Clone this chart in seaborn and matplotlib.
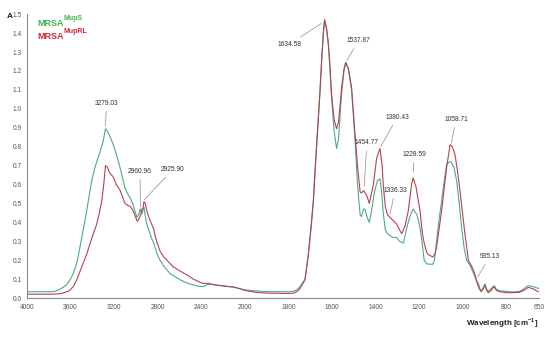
import numpy as np
import pandas as pd
import matplotlib
matplotlib.use("Agg")
import matplotlib.pyplot as plt
import seaborn as sns

# Espectros FTIR (numero de onda en cm-1, absorbancia)
wn_mups = [4000, 3800, 3740, 3700, 3660, 3636, 3600, 3575, 3540, 3513, 3480, 3452, 3420, 3406,
           3380, 3360, 3330, 3300, 3279, 3260, 3235, 3208, 3180, 3146, 3120, 3100, 3075, 3054,
           3030, 3009, 2990, 2975, 2961, 2945, 2926, 2910, 2895, 2875, 2856, 2840, 2810, 2779,
           2740, 2687, 2620, 2565, 2500, 2420, 2382, 2336, 2300, 2259, 2200, 2150, 2106, 2050,
           2000, 1960, 1900, 1800, 1775, 1760, 1747, 1735, 1724, 1709, 1697, 1686, 1675, 1663,
           1655, 1648, 1640, 1634, 1625, 1617, 1610, 1602, 1590, 1579, 1570, 1556, 1545, 1537,
           1525, 1510, 1494, 1483, 1471, 1465, 1455, 1449, 1440, 1429, 1420, 1405, 1392, 1380,
           1372, 1365, 1355, 1345, 1334, 1320, 1303, 1290, 1272, 1255, 1240, 1228, 1210, 1196,
           1185, 1177, 1165, 1138, 1130, 1120, 1108, 1097, 1085, 1074, 1060, 1054, 1040, 1028,
           1016, 1005, 993, 982, 965, 951, 940, 928, 918, 910, 898, 890, 883, 870, 856, 845,
           829, 800, 768, 740, 720, 700, 680, 665, 650]
abs_mups = [0.033, 0.033, 0.035, 0.045, 0.060, 0.070, 0.100, 0.130, 0.190, 0.270, 0.370, 0.460, 0.570, 0.620,
            0.680, 0.720, 0.770, 0.830, 0.895, 0.880, 0.850, 0.810, 0.760, 0.690, 0.630, 0.580, 0.550, 0.530,
            0.500, 0.460, 0.425, 0.440, 0.470, 0.445, 0.480, 0.420, 0.380, 0.350, 0.315, 0.295, 0.240, 0.200,
            0.165, 0.130, 0.105, 0.088, 0.073, 0.062, 0.060, 0.073, 0.072, 0.068, 0.064, 0.060, 0.058, 0.050,
            0.043, 0.038, 0.034, 0.033, 0.036, 0.045, 0.060, 0.080, 0.100, 0.230, 0.370, 0.510, 0.730, 0.950,
            1.100, 1.250, 1.400, 1.470, 1.420, 1.340, 1.220, 1.060, 0.880, 0.790, 0.840, 1.080, 1.200, 1.245,
            1.210, 1.100, 0.830, 0.600, 0.440, 0.430, 0.470, 0.470, 0.430, 0.400, 0.450, 0.560, 0.620, 0.630,
            0.560, 0.450, 0.360, 0.340, 0.330, 0.320, 0.320, 0.300, 0.290, 0.380, 0.440, 0.470, 0.440, 0.370,
            0.280, 0.200, 0.180, 0.178, 0.200, 0.300, 0.420, 0.510, 0.620, 0.705, 0.720, 0.720, 0.690, 0.620,
            0.500, 0.370, 0.260, 0.200, 0.170, 0.130, 0.100, 0.077, 0.040, 0.045, 0.075, 0.045, 0.035, 0.050,
            0.065, 0.045, 0.038, 0.035, 0.032, 0.035, 0.048, 0.065, 0.062, 0.055, 0.050]

wn_muprl = [4000, 3800, 3700, 3660, 3620, 3605, 3575, 3544, 3500, 3452, 3420, 3390, 3360, 3335,
            3314, 3295, 3279, 3260, 3240, 3208, 3180, 3146, 3120, 3100, 3075, 3054, 3035, 3024,
            3005, 2987, 2970, 2956, 2945, 2935, 2926, 2914, 2900, 2886, 2870, 2856, 2840, 2810,
            2780, 2749, 2700, 2657, 2610, 2565, 2520, 2473, 2420, 2382, 2336, 2300, 2259, 2200,
            2150, 2106, 2050, 2000, 1950, 1900, 1800, 1775, 1760, 1747, 1735, 1724, 1709, 1697,
            1686, 1675, 1663, 1655, 1648, 1640, 1634, 1625, 1617, 1610, 1602, 1590, 1579, 1570,
            1556, 1545, 1537, 1525, 1510, 1494, 1483, 1471, 1465, 1455, 1440, 1429, 1410, 1395,
            1380, 1370, 1365, 1355, 1345, 1334, 1320, 1303, 1290, 1280, 1265, 1250, 1235, 1228,
            1215, 1196, 1185, 1177, 1165, 1158, 1138, 1128, 1120, 1108, 1097, 1085, 1074, 1058,
            1048, 1036, 1025, 1013, 1000, 990, 974, 960, 951, 945, 936, 925, 915, 905, 898, 890,
            883, 870, 856, 845, 829, 800, 768, 740, 720, 699, 680, 665, 650]
abs_muprl = [0.020, 0.020, 0.022, 0.028, 0.036, 0.042, 0.060, 0.094, 0.160, 0.230, 0.290, 0.340, 0.390, 0.450,
             0.510, 0.600, 0.700, 0.690, 0.660, 0.640, 0.600, 0.570, 0.530, 0.500, 0.490, 0.485, 0.470, 0.460,
             0.430, 0.405, 0.420, 0.440, 0.470, 0.475, 0.510, 0.500, 0.460, 0.435, 0.410, 0.390, 0.370, 0.300,
             0.250, 0.220, 0.190, 0.165, 0.148, 0.133, 0.118, 0.100, 0.085, 0.077, 0.078, 0.072, 0.068, 0.064,
             0.061, 0.058, 0.050, 0.040, 0.030, 0.026, 0.024, 0.026, 0.035, 0.050, 0.075, 0.095, 0.220, 0.360,
             0.500, 0.720, 0.940, 1.090, 1.240, 1.395, 1.470, 1.425, 1.350, 1.240, 1.080, 0.940, 0.895, 0.930,
             1.110, 1.210, 1.245, 1.215, 1.110, 0.860, 0.700, 0.560, 0.555, 0.567, 0.540, 0.500, 0.600, 0.740,
             0.790, 0.700, 0.600, 0.480, 0.440, 0.425, 0.410, 0.390, 0.360, 0.340, 0.380, 0.460, 0.600, 0.635,
             0.590, 0.460, 0.340, 0.290, 0.240, 0.230, 0.217, 0.230, 0.270, 0.370, 0.460, 0.580, 0.690, 0.810,
             0.800, 0.760, 0.680, 0.570, 0.440, 0.340, 0.200, 0.170, 0.147, 0.130, 0.086, 0.050, 0.033, 0.050,
             0.068, 0.040, 0.028, 0.040, 0.060, 0.040, 0.033, 0.028, 0.028, 0.030, 0.040, 0.056, 0.050, 0.040,
             0.033]

# Picos etiquetados: (texto, x pico, y pico, x texto, y texto)
peak_labels = ["3279.03", "2960.96", "2925.90", "1634.58", "1537.87", "1454.77",
               "1380.43", "1336.33", "1228.59", "1058.71", "935.13"]
peak_xy = [(3279, 0.91), (2958, 0.48), (2922, 0.52), (1650, 1.45), (1531, 1.255), (1452, 0.59),
           (1376, 0.80), (1334, 0.44), (1226, 0.665), (1052, 0.82), (932, 0.11)]
text_xy = [(3270, 1.03), (2963, 0.67), (2660, 0.68), (1797, 1.34), (1480, 1.36), (1440, 0.82),
           (1301, 0.955), (1311, 0.57), (1223, 0.76), (1031, 0.944), (875, 0.22)]

xticks = [4000, 3600, 3200, 2800, 2400, 2000, 1800, 1600, 1400, 1200, 1000, 800, 650]

df = pd.concat([
    pd.DataFrame({"wn": wn_mups, "A": abs_mups, "cepa": "MupS"}),
    pd.DataFrame({"wn": wn_muprl, "A": abs_muprl, "cepa": "MupRL"}),
])

sns.set_style("white")
plt.rcParams["font.family"] = ["Liberation Sans", "DejaVu Sans"]
plt.rcParams["mathtext.fontset"] = "custom"
plt.rcParams["mathtext.rm"] = "Liberation Sans"
plt.rcParams["mathtext.bf"] = "Liberation Sans:bold"

verde = "#4aab84"
rojo = "#b5424f"

fig = plt.figure(figsize=(5.5, 3.37), dpi=100)
ax = fig.add_axes([0.049, 0.1157, 0.931, 0.8423])


# escala de FTIR: por debajo de 2000 cm-1 el eje se estira al doble
def fwd(w):
    w = np.asarray(w, dtype=float)
    return np.where(w >= 2000, w, 2 * w - 2000)


def inv(u):
    u = np.asarray(u, dtype=float)
    return np.where(u >= 2000, u, (u + 2000) / 2)


ax.set_xscale("function", functions=(fwd, inv))

sns.lineplot(data=df, x="wn", y="A", hue="cepa", palette={"MupS": verde, "MupRL": rojo},
             sort=False, estimator=None, linewidth=0.8, legend=False, ax=ax)

ax.set_xlim(4000, 650)
ax.set_ylim(0, 1.5)
ax.set_xticks(xticks)
ax.set_xticklabels([str(t) for t in xticks])
ax.set_yticks(np.arange(0, 1.51, 0.1))
ax.set_yticklabels([f"{v:.1f}" for v in np.arange(0, 1.51, 0.1)])
ax.minorticks_off()
ax.set_xlabel("")
ax.set_ylabel("")

for s in ["top", "right"]:
    ax.spines[s].set_visible(False)
for s in ["left", "bottom"]:
    ax.spines[s].set_color("#8a8a8a")
    ax.spines[s].set_linewidth(0.8)
ax.tick_params(axis="both", direction="out", length=2, width=0.6, color="#8a8a8a",
               labelsize=4.8, labelcolor="#555555", pad=2)
ax.tick_params(axis="y", pad=1.5)

# etiquetas de los picos
for lab, xy, xyt in zip(peak_labels, peak_xy, text_xy):
    ax.annotate(lab, xy=xy, xytext=xyt, ha="center", va="center", fontsize=4.8, color="#333333",
                arrowprops=dict(arrowstyle="-", color="#8a8a8a", lw=0.5, shrinkA=1, shrinkB=0))

# leyenda a mano
fig.text(37 / 550, 1 - 26 / 337, "MRSA", color="#3cb54a", fontsize=6.5, fontweight="bold")
fig.text(64 / 550, 1 - 20 / 337, "MupS", color="#3cb54a", fontsize=5, fontweight="bold")
fig.text(37 / 550, 1 - 39 / 337, "MRSA", color="#d0283c", fontsize=6.5, fontweight="bold")
fig.text(64 / 550, 1 - 33 / 337, "MupRL", color="#d0283c", fontsize=5, fontweight="bold")

fig.text(7 / 550, 1 - 18 / 337, "A", fontsize=6, fontweight="bold", color="#222222")
fig.text(538 / 550, 1 - 325 / 337, r"Wavelength [cm$^{\mathbf{-1}}$]", ha="right",
         fontsize=5.8, fontweight="bold", color="#222222")

fig.savefig("out.png", dpi=100)
